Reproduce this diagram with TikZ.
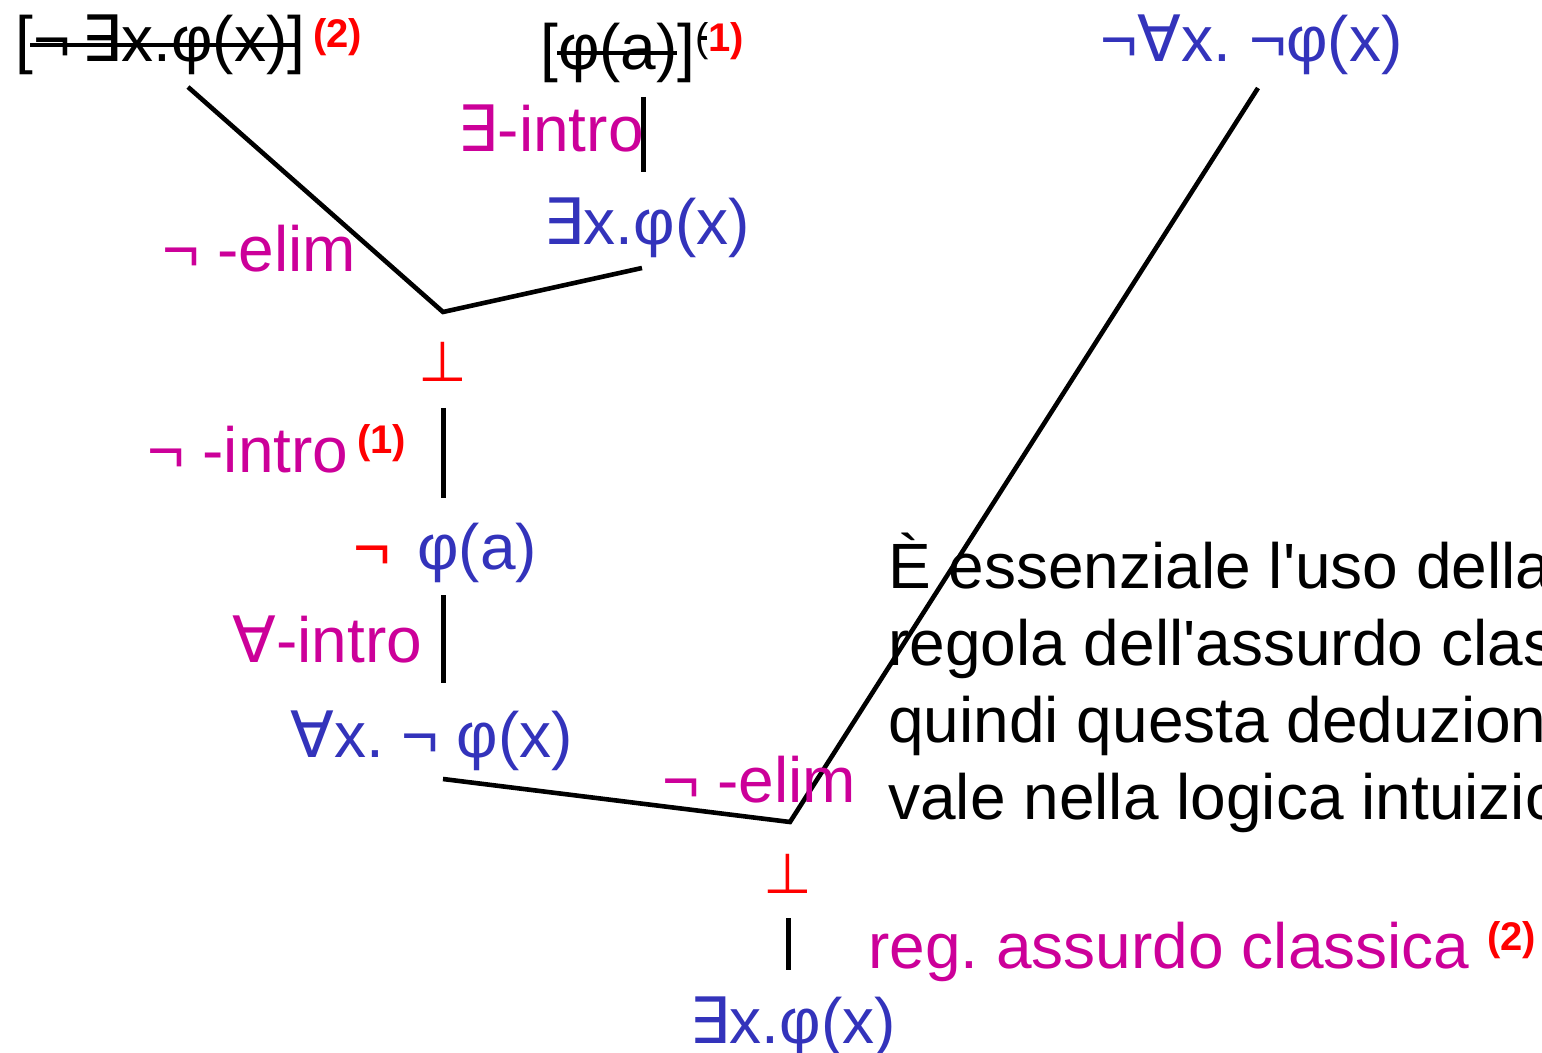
\documentclass[tikz,border=0pt]{standalone}
\usepackage{fontspec}
\setmainfont{Liberation Sans}
\newfontfamily\symf{DejaVu Sans}
\newfontfamily\plainf{Liberation Sans}
\usetikzlibrary{calc}
\definecolor{fblue}{RGB}{51,51,187}
\definecolor{rmag}{RGB}{204,0,153}
\definecolor{bred}{RGB}{255,0,0}
\newcommand\myex{{\symf ∃}}
\newcommand\myall{{\symf ∀}}
\newcommand\myq{{\plainf '}}
\frenchspacing
\tikzset{
  txt/.style={font=\fontsize{32}{38}\selectfont, inner sep=0pt, anchor=base west},
  frm/.style={txt, text=fblue},
  rul/.style={txt, text=rmag},
  hyp/.style={txt, text=black},
  supr/.style={font=\fontsize{20}{24}\selectfont\bfseries, text=bred, inner sep=0pt, anchor=base west},
  botc/.style={font=\fontsize{28}{32}\selectfont\symf, text=bred, inner sep=0pt, anchor=base},
  barl/.style={line width=2.5pt},
  conn/.style={line width=2.3pt},
  strike/.style={line width=1.6pt}
}
\begin{document}
\begin{tikzpicture}[x=0.5pt,y=-0.5pt]
\useasboundingbox (0,0) rectangle (1542,1053);
\clip (0,0) rectangle (1542,1053);
% hypotheses
\node[hyp] (h2) at (15,62) {[¬\,\myex x.φ(x)]};
\node[supr] (s2) at (313,48) {(2)};
\draw[strike] ($(h2.base west)+(15,-17)$) -- ($(h2.base west)+(280,-17)$);
\node[hyp] (h1) at (540,70) {[φ(a)]};
\node[supr] (s1) at (695,52) {\textcolor{black}{\mdseries(}1)};
\draw[strike] ($(h1.base west)+(17,-17)$) -- ($(h1.base west)+(137,-17)$);
\draw[strike] ($(s1.base west)+(3,-14)$) -- ($(s1.base west)+(12,-14)$);
% exists intro
\node[rul] (r1) at (457,152) {\myex-intro};
\coordinate (b1a) at (643,97); \coordinate (b1b) at (643,172);
\draw[barl] (b1a) -- (b1b);
\node[frm] (f1) at (543,245) {\myex x.φ(x)};
% neg elim
\node[rul] (r2) at (162,272) {¬ -elim};
\coordinate (c1) at (188,87);
\coordinate (j1) at (443,312);
\coordinate (c2) at (642,268);
\draw[conn] (c1) -- (j1) -- (c2);
\node[botc] (bot1) at (443,382) {⊥};
% neg intro
\coordinate (b2a) at (443,408); \coordinate (b2b) at (443,498);
\draw[barl] (b2a) -- (b2b);
\node[rul] (r3) at (147,473) {¬ -intro};
\node[supr] (s3) at (357,453) {(1)};
\node[txt, text=bred] (ng) at (353,569) {¬};
\node[frm] (f2) at (417,569) {φ(a)};
% forall intro
\coordinate (b3a) at (443,595); \coordinate (b3b) at (443,683);
\draw[barl] (b3a) -- (b3b);
\node[rul] (r4) at (232,662) {\myall-intro};
\node[frm] (f3) at (290,757) {\myall x. ¬ φ(x)};
% right premise
\node[frm] (f5) at (1100,62) {¬\myall x. ¬φ(x)};
% second neg elim
\coordinate (c3) at (443,779);
\coordinate (j2) at (790,822);
\coordinate (c4) at (1258,88);
\draw[conn] (c3) -- (j2) -- (c4);
\node[rul] (r5) at (662,802) {¬ -elim};
\node[botc] (bot2) at (788,893) {⊥};
\coordinate (b4a) at (788,918); \coordinate (b4b) at (788,970);
\draw[barl] (b4a) -- (b4b);
\node[rul] (r6) at (868,968) {reg. assurdo classica};
\node[supr] (s4) at (1487,950) {(2)};
\node[frm] (f4) at (689,1043) {\myex x.φ(x)};
% note
\node[hyp] (n1) at (888,588) {È essenziale l\myq uso della};
\node[hyp] (n2) at (888,665) {regola dell\myq assurdo classica};
\node[hyp] (n3) at (888,742) {quindi questa deduzione};
\node[hyp] (n4) at (888,819) {vale nella logica intuizionistica};
\end{tikzpicture}
\end{document}
